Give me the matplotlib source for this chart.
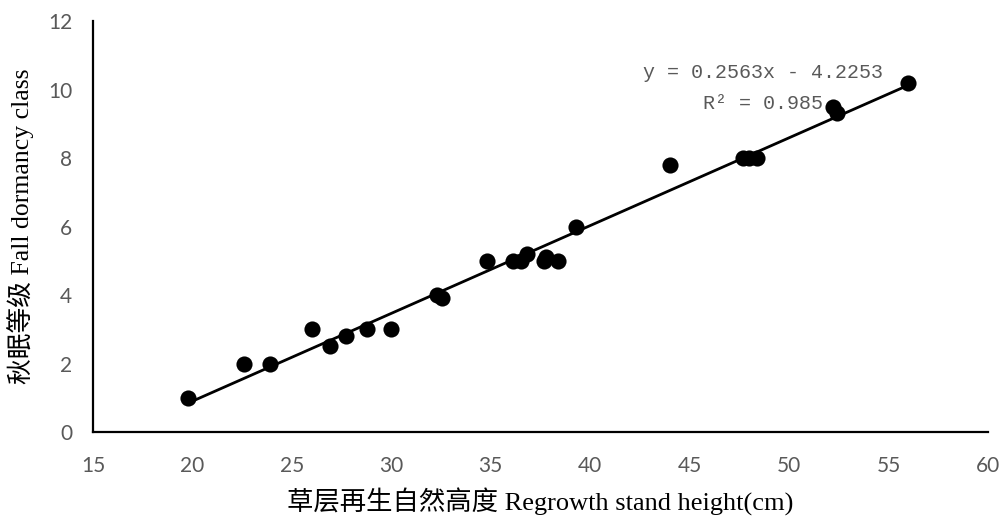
import matplotlib
matplotlib.use("Agg")
import matplotlib.pyplot as plt
import numpy as np

x_vals = [19.8, 22.6, 23.9, 26.0, 26.9, 27.7, 28.8, 30.0, 32.3, 32.55,
          34.8, 36.1, 36.5, 36.8, 37.7, 37.8, 38.4, 39.3, 44.0,
          47.7, 48.0, 48.4, 52.2, 52.4, 56.0]
y_vals = [1, 2, 2, 3, 2.5, 2.8, 3, 3, 4, 3.9,
          5, 5, 5, 5.2, 5, 5.1, 5, 6, 7.8,
          8, 8, 8, 9.5, 9.3, 10.2]
slope = 0.2563
intercept = -4.2253
r2 = 0.985
x_ticks = [15, 20, 25, 30, 35, 40, 45, 50, 55, 60]
y_ticks = [0, 2, 4, 6, 8, 10, 12]

fig = plt.figure(figsize=(10.01, 5.19), dpi=100)
ax = fig.add_axes([0.0929, 0.1676, 0.894, 0.7919])

xs = np.array([min(x_vals), max(x_vals)])
ax.plot(xs, slope * xs + intercept, color='black', lw=2.0, zorder=2)
ax.scatter(x_vals, y_vals, s=135, color='black', zorder=3, linewidths=0)

ax.set_xlim(15, 60)
ax.set_ylim(0, 12)
ax.set_xticks(x_ticks)
ax.set_yticks(y_ticks)
for s in ['top', 'right']:
    ax.spines[s].set_visible(False)
for s in ['left', 'bottom']:
    ax.spines[s].set_linewidth(1.6)
    ax.spines[s].set_color('black')
ax.tick_params(length=0, labelsize=15, labelcolor='#595959')
ax.tick_params(axis='x', pad=17)
ax.tick_params(axis='y', pad=15)
for lab in ax.get_xticklabels() + ax.get_yticklabels():
    lab.set_family(['Lato', 'DejaVu Sans'])

lab_font = ['Liberation Serif', 'Noto Sans CJK SC']
ax.set_xlabel('草层再生自然高度 Regrowth stand height(cm)', family=lab_font,
              fontsize=19, labelpad=9)
ax.set_ylabel('秋眠等级 Fall dormancy class', family=lab_font,
              fontsize=18.5, labelpad=10)

mono = ['Liberation Mono', 'DejaVu Sans Mono']
ax.text(54.72, 10.51, 'y = 0.2563x - 4.2253', family=mono,
        fontsize=14.4, color='#595959', ha='right', va='center')
ax.text(51.7, 9.6, 'R² = 0.985', family=mono,
        fontsize=14.4, color='#595959', ha='right', va='center')

fig.savefig('out.png', dpi=100)
